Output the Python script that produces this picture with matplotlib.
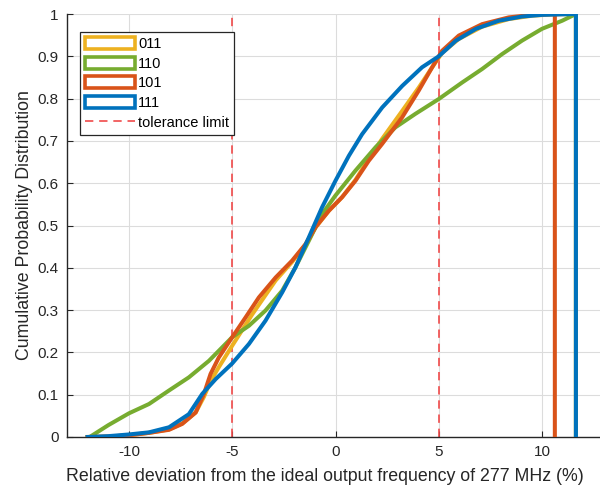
import matplotlib
matplotlib.use("Agg")
import matplotlib.pyplot as plt
from matplotlib.patches import Patch
from matplotlib.lines import Line2D

plt.rcParams['font.family'] = ['Liberation Sans', 'DejaVu Sans']
plt.rcParams['axes.unicode_minus'] = False

# ---- data ----
labels = ["011", "110", "101", "111"]
colors = ["#EDB120", "#77AC30", "#D95319", "#0072BD"]

x_011 = [-12.0, -11.0, -10.0, -9.0, -8.06, -7.42, -6.77, -6.37, -6.05, -5.65, -5.0, -4.03, -2.9, -2.1, -1.45,
         -0.97, -0.32, 0.32, 0.97, 1.61, 2.26, 3.23, 4.03, 4.68, 5.16, 5.97, 7.1, 8.39, 9.52, 10.5, 11.64, 11.64]
y_011 = [0, 0.001, 0.004, 0.01, 0.018, 0.032, 0.058, 0.095, 0.132, 0.165, 0.216, 0.29, 0.37, 0.414, 0.455,
         0.495, 0.535, 0.567, 0.608, 0.658, 0.705, 0.771, 0.826, 0.874, 0.908, 0.941, 0.97, 0.988, 0.996, 0.999, 1.0, 0]

x_110 = [-12.0, -11.9, -11.0, -10.0, -9.03, -8.06, -7.1, -6.13, -5.0, -4.19, -3.39, -2.58, -1.94, -1.29, -0.65,
         0.0, 0.97, 1.94, 2.9, 3.87, 5.0, 6.13, 7.1, 8.06, 9.03, 10.0, 10.97, 11.64, 11.64]
y_110 = [0, 0, 0.028, 0.056, 0.078, 0.11, 0.141, 0.18, 0.236, 0.263, 0.299, 0.346, 0.401, 0.464, 0.527,
         0.571, 0.63, 0.685, 0.732, 0.764, 0.799, 0.838, 0.87, 0.905, 0.937, 0.965, 0.984, 1.0, 0]

x_101 = [-12.0, -11.0, -10.0, -9.0, -8.06, -7.42, -6.77, -6.37, -6.05, -5.65, -5.0, -4.35, -3.71, -2.9, -2.1,
         -1.45, -0.97, -0.32, 0.32, 0.97, 1.61, 2.26, 3.23, 4.03, 4.68, 5.16, 5.97, 7.1, 8.39, 9.52, 10.62, 10.62]
y_101 = [0, 0.001, 0.004, 0.01, 0.017, 0.031, 0.058, 0.102, 0.149, 0.188, 0.236, 0.283, 0.33, 0.377, 0.417,
         0.456, 0.496, 0.535, 0.567, 0.606, 0.653, 0.693, 0.756, 0.819, 0.874, 0.913, 0.949, 0.976, 0.992, 0.998, 1.0, 0]

x_111 = [-12.0, -11.0, -10.0, -9.03, -8.06, -7.1, -6.45, -5.8, -5.0, -4.19, -3.39, -2.58, -1.94, -1.29, -0.65,
         0.0, 0.65, 1.29, 2.26, 3.23, 4.19, 5.0, 5.83, 6.8, 7.9, 9.03, 10.0, 11.64, 11.64]
y_111 = [0, 0.002, 0.006, 0.011, 0.023, 0.054, 0.102, 0.137, 0.174, 0.22, 0.275, 0.342, 0.401, 0.472, 0.543,
         0.606, 0.665, 0.716, 0.779, 0.83, 0.874, 0.9, 0.937, 0.965, 0.984, 0.994, 0.998, 1.0, 0]

tolerance = [-5, 5]
x_ticks = [-10, -5, 0, 5, 10]
y_ticks = [0, 0.1, 0.2, 0.3, 0.4, 0.5, 0.6, 0.7, 0.8, 0.9, 1]
y_ticklabels = ["0", "0.1", "0.2", "0.3", "0.4", "0.5", "0.6", "0.7", "0.8", "0.9", "1"]

# ---- figure ----
W, H = 600, 488
fig = plt.figure(figsize=(W / 100, H / 100), dpi=100)
ax_l, ax_r, ax_b, ax_t = 67, 604, 437, 14
ax = fig.add_axes([ax_l / W, (H - ax_b) / H, (ax_r - ax_l) / W, (ax_b - ax_t) / H])

series = [(x_011, y_011), (x_110, y_110), (x_101, y_101), (x_111, y_111)]
for (xs, ys), c in zip(series, colors):
    ax.plot(xs, ys, color=c, lw=2.9, solid_joinstyle='round', zorder=3)

for t in tolerance:
    ax.axvline(t, color="#F04A4A", lw=1.2, dashes=(5, 3.5), zorder=2)

ax.set_xlim(-13, 13)
ax.set_ylim(0, 1)
ax.set_xticks(x_ticks)
ax.set_xticklabels([str(v) for v in x_ticks])
ax.set_yticks(y_ticks)
ax.set_yticklabels(y_ticklabels)

ax.grid(True, color="#DCDCDC", lw=0.8, zorder=0)
ax.set_axisbelow(True)
for s in ["top", "right"]:
    ax.spines[s].set_visible(False)
for s in ["left", "bottom"]:
    ax.spines[s].set_color("#262626")
    ax.spines[s].set_linewidth(1.0)
ax.tick_params(direction="in", length=4, width=0.8, colors="#262626", labelsize=11, pad=6)

ax.set_xlabel("Relative deviation from the ideal output frequency of 277 MHz (%)", fontsize=12.8, color="#262626")
ax.set_ylabel("Cumulative Probability Distribution", fontsize=12.8, color="#262626")
ax.xaxis.set_label_coords((325 - ax_l) / (ax_r - ax_l), -(468 - ax_b) / (ax_b - ax_t))
ax.yaxis.set_label_coords(-(67 - 33) / (ax_r - ax_l), 0.5)

handles = [Patch(facecolor="white", edgecolor=c, lw=2.6, label=l) for c, l in zip(colors, labels)]
handles.append(Line2D([], [], color="#F04A4A", lw=1.2, dashes=(5, 3.5), label="tolerance limit"))
leg = ax.legend(handles=handles, loc="upper left",
                bbox_to_anchor=((80 - ax_l) / (ax_r - ax_l), (ax_b - 32) / (ax_b - ax_t)),
                borderaxespad=0, fontsize=10.5, handlelength=3.4, handleheight=0.9,
                handletextpad=0.25, labelspacing=0.38, borderpad=0.35,
                fancybox=False, framealpha=1, edgecolor="#262626")
leg.get_frame().set_linewidth(0.9)

fig.savefig("out.png", dpi=100)
